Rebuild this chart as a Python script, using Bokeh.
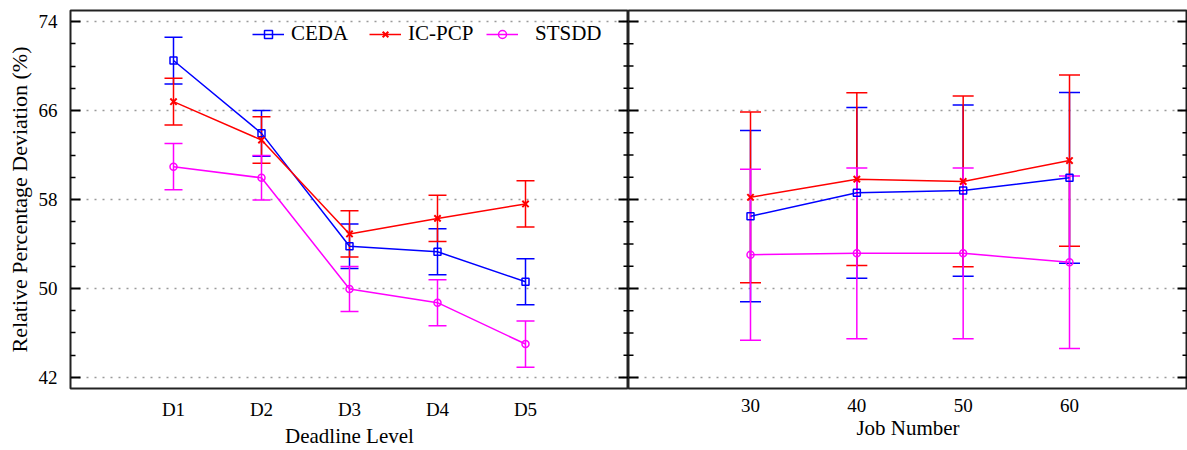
from bokeh.plotting import figure
from bokeh.layouts import row
from bokeh.models import (Range1d, FixedTicker, LinearAxis, Whisker, TeeHead,
                          ColumnDataSource, Legend, LegendItem)
from bokeh.embed import file_html
from bokeh.resources import INLINE

# ---------------- data ----------------
deadline_levels = ["D1", "D2", "D3", "D4", "D5"]
ceda_dl = [70.5, 63.95, 53.8, 53.3, 50.6]
ceda_dl_err = [2.1, 2.05, 2.0, 2.07, 2.07]
icpcp_dl = [66.8, 63.35, 54.9, 56.3, 57.6]
icpcp_dl_err = [2.1, 2.1, 2.08, 2.08, 2.08]
stsdd_dl = [60.95, 59.95, 49.95, 48.72, 45.0]
stsdd_dl_err = [2.08, 2.0, 2.02, 2.07, 2.08]

job_numbers = [30, 40, 50, 60]
ceda_jn = [56.5, 58.6, 58.8, 59.95]
ceda_jn_err = [7.7, 7.68, 7.7, 7.68]
icpcp_jn = [58.2, 59.83, 59.62, 61.5]
icpcp_jn_err = [7.68, 7.77, 7.68, 7.7]
stsdd_jn = [53.03, 53.16, 53.16, 52.36]
stsdd_jn_err = [7.7, 7.68, 7.68, 7.76]

y_major = [42, 50, 58, 66, 74]
y_minor = [44, 46, 48, 52, 54, 56, 60, 62, 64, 68, 70, 72]

series_names = ["CEDA", "IC-PCP", "STSDD"]
colors = ["#0000FF", "#FF0000", "#FF00FF"]
markers = ["square", "x", "circle"]
marker_sizes = [7, 9, 7]

y_title = "Relative Percentage Deviation (%)"
x_title_left = "Deadline Level"
x_title_right = "Job Number"

FONT = "Liberation Serif"
W_TOTAL = 1187
H = 450
FRAME_L1 = 70
FRAME_R1 = 628
BORDER_TOP = 10
BORDER_BOTTOM = 61
FRAME_COLOR = "#222222"


def style_common(p):
    p.ygrid.ticker = FixedTicker(ticks=y_major)
    p.ygrid.grid_line_color = "#9a9a9a"
    p.ygrid.grid_line_dash = "2 6"
    p.ygrid.grid_line_width = 1.5
    p.xgrid.grid_line_color = None
    p.background_fill_color = "white"
    p.border_fill_color = "white"
    p.outline_line_color = FRAME_COLOR
    p.outline_line_width = 2


def edge_ticks(p, xpos):
    # tick marks on a panel edge: half of each dash lies inside the frame
    p.scatter(x=[xpos] * len(y_major), y=y_major, marker="dash", size=20,
              line_color="black", line_width=2)
    p.scatter(x=[xpos] * len(y_minor), y=y_minor, marker="dash", size=10,
              line_color="black", line_width=1.5)


def x_axis_style(ax, ticks, title, overrides=None):
    ax.ticker = FixedTicker(ticks=ticks)
    if overrides:
        ax.major_label_overrides = overrides
    ax.axis_line_color = None
    ax.major_tick_line_color = None
    ax.minor_tick_line_color = None
    ax.major_tick_out = 0
    ax.major_label_text_font = FONT
    ax.major_label_text_font_size = "19px"
    ax.major_label_text_color = "black"
    ax.major_label_standoff = 10
    ax.axis_label = title
    ax.axis_label_text_font = FONT
    ax.axis_label_text_font_size = "21px"
    ax.axis_label_text_font_style = "normal"
    ax.axis_label_text_color = "black"
    ax.axis_label_standoff = 1


def add_series(p, xs, ys, errs, cap):
    rends = []
    for name, col, mk, ms, yv, ev in zip(series_names, colors, markers,
                                         marker_sizes, ys, errs):
        src = ColumnDataSource(dict(x=xs, y=yv,
                                    lo=[a - b for a, b in zip(yv, ev)],
                                    hi=[a + b for a, b in zip(yv, ev)]))
        wh = Whisker(source=src, base="x", upper="hi", lower="lo",
                     line_color=col, line_width=1.5,
                     upper_head=TeeHead(size=cap, line_color=col, line_width=1.5),
                     lower_head=TeeHead(size=cap, line_color=col, line_width=1.5))
        p.add_layout(wh)
        l = p.line("x", "y", source=src, line_color=col, line_width=1.5)
        m = p.scatter("x", "y", source=src, marker=mk, size=ms,
                      line_color=col, fill_color=None,
                      line_width=2 if mk == "x" else 1.5)
        rends.append((name, [l, m]))
    return rends


# ---------------- left panel ----------------
xs_dl = list(range(1, len(deadline_levels) + 1))
frame_w1 = FRAME_R1 - FRAME_L1
px_per_unit1 = 88.0
x0_1 = 1 - 103.0 / px_per_unit1
x_range1 = Range1d(x0_1, x0_1 + frame_w1 / px_per_unit1)
y_range = Range1d(41.0, 75.0)

p1 = figure(width=FRAME_R1, height=H, x_range=x_range1, y_range=y_range,
            output_backend="svg", toolbar_location=None,
            min_border_left=FRAME_L1, min_border_right=0,
            min_border_top=BORDER_TOP, min_border_bottom=BORDER_BOTTOM,
            x_axis_location=None, y_axis_location=None)
style_common(p1)

ax_l = LinearAxis(axis_label=y_title)
ax_l.ticker = FixedTicker(ticks=y_major, minor_ticks=y_minor)
ax_l.major_tick_in = 10
ax_l.major_tick_out = 0
ax_l.minor_tick_in = 5
ax_l.minor_tick_out = 0
ax_l.major_tick_line_width = 2
ax_l.minor_tick_line_width = 1.5
ax_l.major_tick_line_color = "black"
ax_l.minor_tick_line_color = "black"
ax_l.axis_line_color = None
ax_l.major_label_text_font = FONT
ax_l.major_label_text_font_size = "19px"
ax_l.major_label_text_color = "black"
ax_l.major_label_standoff = 13
ax_l.axis_label_text_font = FONT
ax_l.axis_label_text_font_size = "22px"
ax_l.axis_label_text_font_style = "normal"
ax_l.axis_label_text_color = "black"
ax_l.axis_label_standoff = 4
p1.add_layout(ax_l, "left")

ax_b1 = LinearAxis()
x_axis_style(ax_b1, xs_dl, x_title_left,
             {x: lab for x, lab in zip(xs_dl, deadline_levels)})
p1.add_layout(ax_b1, "below")

edge_ticks(p1, x_range1.end)

r1 = add_series(p1, xs_dl, [ceda_dl, icpcp_dl, stsdd_dl],
                [ceda_dl_err, icpcp_dl_err, stsdd_dl_err], 18)

leg_common = dict(orientation="horizontal", border_line_color=None,
                  background_fill_alpha=0, padding=0, margin=0, spacing=0,
                  glyph_width=32, glyph_height=20, label_height=20,
                  label_text_font=FONT, label_text_font_size="21px",
                  label_text_color="black")
leg1 = Legend(items=[LegendItem(label=n, renderers=r) for n, r in r1[:2]],
              location=(182, 342), label_width=78, label_standoff=7,
              **leg_common)
leg2 = Legend(items=[LegendItem(label=n, renderers=r) for n, r in r1[2:]],
              location=(416, 342), label_standoff=17, **leg_common)
p1.add_layout(leg1)
p1.add_layout(leg2)

# ---------------- right panel ----------------
W2 = W_TOTAL - FRAME_R1
px_per_unit2 = (1069 - 750) / 30.0
x0_2 = job_numbers[0] - 122.0 / px_per_unit2
x_range2 = Range1d(x0_2, x0_2 + W2 / px_per_unit2)

p2 = figure(width=W2, height=H, x_range=x_range2, y_range=y_range,
            output_backend="svg", toolbar_location=None,
            min_border_left=0, min_border_right=0,
            min_border_top=BORDER_TOP, min_border_bottom=BORDER_BOTTOM,
            x_axis_location=None, y_axis_location=None)
style_common(p2)

ax_b2 = LinearAxis()
x_axis_style(ax_b2, job_numbers, x_title_right)
p2.add_layout(ax_b2, "below")

edge_ticks(p2, x_range2.start)
edge_ticks(p2, x_range2.end)

add_series(p2, job_numbers, [ceda_jn, icpcp_jn, stsdd_jn],
           [ceda_jn_err, icpcp_jn_err, stsdd_jn_err], 21)

layout = row(p1, p2)
open("out.html", "w").write(file_html(layout, INLINE))
